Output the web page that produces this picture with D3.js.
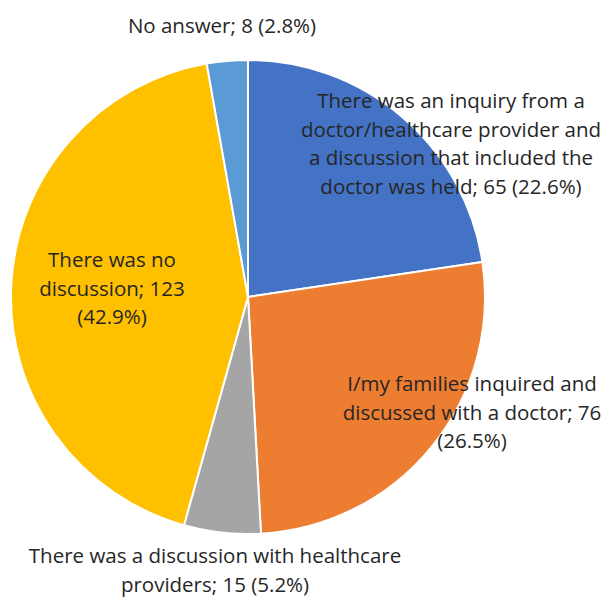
<!DOCTYPE html>
<html>
<head>
<meta charset="utf-8">
<script src="https://cdn.jsdelivr.net/npm/d3@7"></script>
<style>
  html, body { margin: 0; padding: 0; background: #fff; }
  svg { display: block; }
</style>
</head>
<body>
<div id="chart"></div>
<script>
// chart data, clockwise from 12 o'clock
const categories = [
  'There was an inquiry from a doctor/healthcare provider and a discussion that included the doctor was held',
  'I/my families inquired and discussed with a doctor',
  'There was a discussion with healthcare providers',
  'There was no discussion',
  'No answer'
];
const counts = [65, 76, 15, 123, 8];
const percents = ['22.6%', '26.5%', '5.2%', '42.9%', '2.8%'];
const colors = ['#4472C4', '#ED7D31', '#A5A5A5', '#FFC000', '#5B9BD5'];

// label lines as wrapped in the original
const labelLines = [
  ['There was an inquiry from a', 'doctor/healthcare provider and', 'a discussion that included the', 'doctor was held; 65 (22.6%)'],
  ['I/my families inquired and', 'discussed with a doctor; 76', '(26.5%)'],
  ['There was a discussion with healthcare', 'providers; 15 (5.2%)'],
  ['There was no', 'discussion; 123', '(42.9%)'],
  ['No answer; 8 (2.8%)']
];
// label anchor (centre of first line), in px
const labelPos = [[451, 100], [472, 383], [215, 555], [112, 259], [222, 25]];

const width = 608, height = 602;
const cx = 248, cy = 297, radius = 237;
const lineHeight = 28.5;

const svg = d3.select('#chart')
  .append('svg')
  .attr('width', width)
  .attr('height', height);

const data = counts.map((c, i) => ({name: categories[i], value: c, index: i}));

const pie = d3.pie()
  .value(d => d.value)
  .sort(null);

const arc = d3.arc()
  .innerRadius(0)
  .outerRadius(radius);

const sliceGroup = svg.append('g')
  .attr('transform', `translate(${cx},${cy})`);

sliceGroup.selectAll('.slice')
  .data(pie(data))
  .enter().append('path')
  .attr('class', 'slice')
  .attr('d', arc)
  .attr('fill', d => colors[d.data.index])
  .attr('stroke', '#fff')
  .attr('stroke-width', 2)
  .attr('stroke-linejoin', 'round');

const labelGroup = svg.append('g');

labelGroup.selectAll('.slice-label')
  .data(data)
  .enter().append('text')
  .attr('class', 'slice-label')
  .attr('text-anchor', 'middle')
  .attr('dominant-baseline', 'central')
  .style('font-family', '"Open Sans", "Noto Sans", sans-serif')
  .style('font-size', '20.5px')
  .style('fill', '#262626')
  .each(function (d) {
    const t = d3.select(this);
    const [x, y] = labelPos[d.index];
    labelLines[d.index].forEach((line, k) => {
      t.append('tspan')
        .attr('x', x)
        .attr('y', y + k * lineHeight)
        .text(line);
    });
  });
</script>
</body>
</html>
